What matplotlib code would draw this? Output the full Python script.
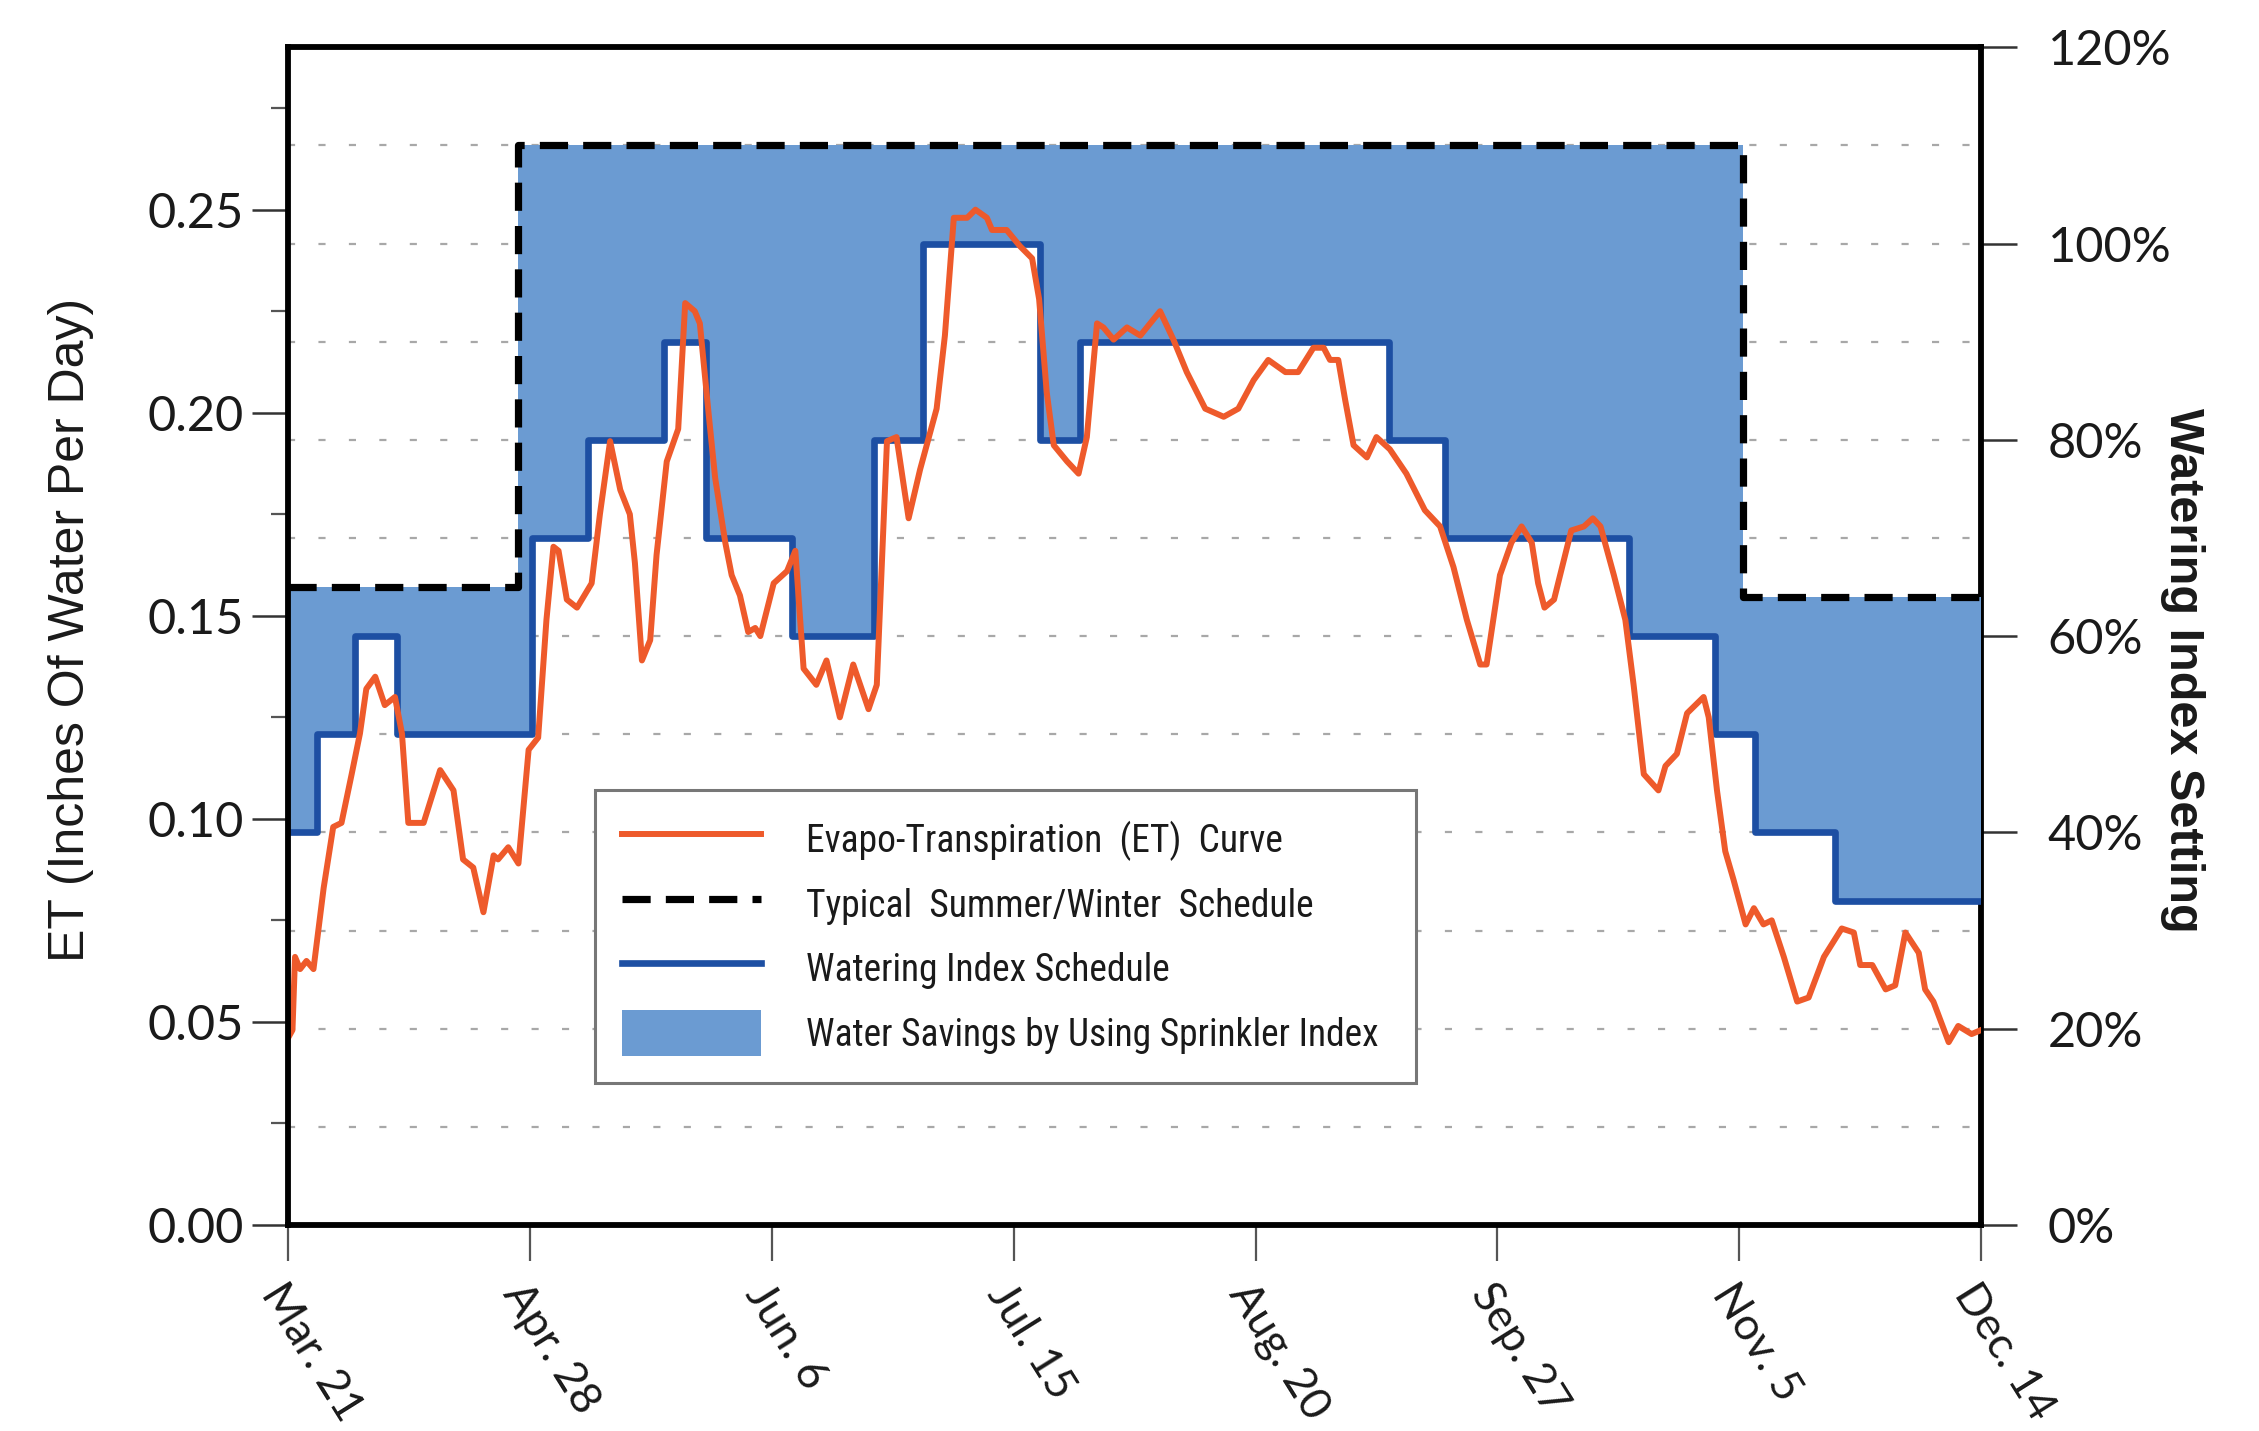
import numpy as np
import matplotlib
matplotlib.use("Agg")
import matplotlib.pyplot as plt
from matplotlib.lines import Line2D
from matplotlib.patches import Patch
from matplotlib.ticker import FixedLocator, FuncFormatter

# ---------------- data ----------------
tick_labels = ["Mar. 21", "Apr. 28", "Jun. 6", "Jul. 15", "Aug. 20", "Sep. 27", "Nov. 5", "Dec. 14"]
tick_days = [0, 38, 76, 114, 152, 190, 228, 266]

# Evapo-transpiration curve (inches of water per day), day index from Mar. 21
et_day = [0, 0.7, 1.1, 1.9, 2.9, 4.0, 5.6, 7.1, 8.4, 10.0, 11.3, 12.3, 13.7, 15.2, 16.8,
          17.9, 18.9, 21.3, 23.9, 26.0, 27.5, 29.1, 30.7, 32.3, 33.0, 34.6, 36.2, 37.8,
          39.3, 40.6, 41.7, 42.5, 43.8, 45.4, 47.7, 49.0, 50.6, 52.2, 53.7, 54.5, 55.6,
          56.9, 57.9, 59.5, 61.3, 62.4, 63.9, 64.7, 66.0, 67.1, 68.7, 69.7, 71.0, 72.3,
          73.4, 74.2, 76.3, 78.4, 79.7, 81.0, 83.0, 84.6, 86.7, 88.8, 91.2, 92.5, 94.1,
          95.6, 97.5, 99.3, 101.9, 103.2, 104.6, 106.7, 108.0, 109.8, 110.6, 112.9, 115.0,
          116.9, 118.0, 119.2, 120.3, 122.4, 124.2, 125.5, 127.1, 128.1, 129.7, 131.8,
          133.9, 137.0, 139.1, 141.2, 144.1, 147.0, 149.3, 151.7, 154.0, 156.7, 158.7,
          161.1, 162.7, 163.7, 165.0, 166.1, 167.4, 169.5, 171.0, 173.1, 175.7, 178.6,
          181.0, 183.1, 185.2, 187.3, 188.3, 190.4, 192.2, 193.8, 195.4, 196.4, 197.4,
          198.9, 201.6, 203.6, 205.0, 206.2, 208.3, 210.1, 211.4, 213.0, 215.3, 216.4,
          218.2, 219.8, 222.4, 223.2, 224.5, 225.8, 227.1, 229.0, 230.3, 231.8, 233.1,
          235.0, 237.1, 238.9, 241.3, 244.1, 246.0, 247.0, 248.9, 251.0, 252.5, 254.1,
          256.2, 257.2, 258.5, 260.9, 262.4, 264.5, 266.0]
et_value = [0.046, 0.048, 0.066, 0.063, 0.065, 0.063, 0.083, 0.098, 0.099, 0.111, 0.121,
            0.132, 0.135, 0.128, 0.130, 0.121, 0.099, 0.099, 0.112, 0.107, 0.090, 0.088,
            0.077, 0.091, 0.090, 0.093, 0.089, 0.117, 0.120, 0.149, 0.167, 0.166, 0.154,
            0.152, 0.158, 0.175, 0.193, 0.181, 0.175, 0.163, 0.139, 0.144, 0.165, 0.188,
            0.196, 0.227, 0.225, 0.222, 0.201, 0.184, 0.168, 0.160, 0.155, 0.146, 0.147,
            0.145, 0.158, 0.161, 0.166, 0.137, 0.133, 0.139, 0.125, 0.138, 0.127, 0.133,
            0.193, 0.194, 0.174, 0.186, 0.201, 0.219, 0.248, 0.248, 0.250, 0.248, 0.245,
            0.245, 0.241, 0.238, 0.228, 0.205, 0.192, 0.188, 0.185, 0.194, 0.222, 0.221,
            0.218, 0.221, 0.219, 0.225, 0.218, 0.210, 0.201, 0.199, 0.201, 0.208, 0.213,
            0.210, 0.210, 0.216, 0.216, 0.213, 0.213, 0.203, 0.192, 0.189, 0.194, 0.191,
            0.185, 0.176, 0.172, 0.162, 0.149, 0.138, 0.138, 0.160, 0.168, 0.172, 0.168,
            0.158, 0.152, 0.154, 0.171, 0.172, 0.174, 0.172, 0.160, 0.149, 0.133, 0.111,
            0.107, 0.113, 0.116, 0.126, 0.130, 0.125, 0.107, 0.092, 0.085, 0.074, 0.078,
            0.074, 0.075, 0.066, 0.055, 0.056, 0.066, 0.073, 0.072, 0.064, 0.064, 0.058,
            0.059, 0.072, 0.067, 0.058, 0.055, 0.045, 0.049, 0.047, 0.048]

# Watering index schedule (% setting), step changes
index_day = [0, 4.5, 10.5, 17.1, 38.3, 47.2, 59.0, 65.6, 79.1, 92.0, 99.8, 118.1, 124.4,
             172.9, 181.8, 210.6, 224.2, 230.5, 243.0, 266.0]
index_pct = [40, 50, 60, 50, 70, 80, 90, 70, 60, 80, 100, 80, 90, 80, 70, 60, 50, 40, 33, 33]

# Typical summer / winter schedule (% setting)
typical_day = [0, 36.2, 228.6, 266.0]
typical_pct = [65, 110, 64, 64]

legend_labels = ["Evapo-Transpiration  (ET)  Curve",
                 "Typical  Summer/Winter  Schedule",
                 "Watering Index Schedule",
                 "Water Savings by Using Sprinkler Index"]

# axis scales: 0.29 in/day  <->  120 %
ET_TOP = 0.29
PCT_TOP = 120.0

def pct_to_et(p):
    return np.asarray(p, dtype=float) * ET_TOP / PCT_TOP

def et_to_pct(e):
    return np.asarray(e, dtype=float) * PCT_TOP / ET_TOP

# ---------------- style ----------------
plt.rcParams["font.family"] = ["Lato", "DejaVu Sans"]
COND = ["Roboto Condensed", "Noto Sans Condensed", "DejaVu Sans Condensed",
        "Liberation Sans Narrow", "Noto Sans", "Liberation Sans"]
PLAIN = ["Liberation Sans", "DejaVu Sans"]

c_fill = "#6b9bd2"
c_blue = "#1d4fa3"
c_orange = "#ee5a2b"
c_text = "#1a1a1a"

LW_ET = 4.3
LW_IDX = 4.8
LW_TYP = 5.2
DASH = (0, (3.9, 2.1))

fig = plt.figure(figsize=(22.59, 14.31), dpi=100)
ax = fig.add_axes([0.1275, 0.144, 0.7495, 0.823])
ax.set_xlim(0, 266)
ax.set_ylim(0, ET_TOP)

# dotted grid every 10 % of the watering index scale
for p in range(10, 120, 10):
    ax.axhline(float(pct_to_et(p)), color="#a8a8a8", lw=1.6,
               ls=(0, (3.2, 10.5)), zorder=1)

# fill between schedules
x_all = np.union1d(index_day, typical_day)
def step_at(days, vals, x):
    idx = np.searchsorted(days, x, side="right") - 1
    idx = np.clip(idx, 0, len(vals) - 1)
    return np.asarray(vals, dtype=float)[idx]

lower = pct_to_et(step_at(index_day, index_pct, x_all))
upper = pct_to_et(step_at(typical_day, typical_pct, x_all))
ax.fill_between(x_all, lower, upper, step="post", color=c_fill, lw=0, zorder=2)

ax.step(index_day, pct_to_et(index_pct), where="post", color=c_blue, lw=LW_IDX, zorder=3)
ax.step(typical_day, pct_to_et(typical_pct), where="post", color="black", lw=LW_TYP,
        ls=DASH, zorder=4)
ax.plot(et_day, et_value, color=c_orange, lw=LW_ET, zorder=5)

# spines
for s in ["left", "bottom", "top"]:
    ax.spines[s].set_linewidth(4.2)
    ax.spines[s].set_color("black")
    ax.spines[s].set_zorder(6)
ax.spines["right"].set_visible(False)

# left axis ticks
ax.yaxis.set_major_locator(FixedLocator([0, 0.05, 0.10, 0.15, 0.20, 0.25]))
ax.yaxis.set_minor_locator(FixedLocator([0.025, 0.075, 0.125, 0.175, 0.225, 0.275]))
ax.yaxis.set_major_formatter(FuncFormatter(lambda v, pos: f"{v:.2f}"))
ax.tick_params(axis="y", which="major", length=26, width=1.8, pad=6,
               labelsize=35, colors="#333333", labelcolor=c_text)
ax.tick_params(axis="y", which="minor", length=12, width=1.6, colors="#555555")

# bottom ticks
ax.set_xticks(tick_days)
ax.set_xticklabels(tick_labels, rotation=-58, ha="left", va="top",
                   rotation_mode="anchor")
ax.tick_params(axis="x", which="major", length=26, width=1.6, pad=11,
               labelsize=32, colors="#555555", labelcolor=c_text)

ax.set_ylabel("ET (Inches Of Water Per Day)", family=PLAIN, fontsize=36,
              color=c_text, va="center")
ax.yaxis.set_label_coords(-0.128, 0.505)

# right axis (watering index setting)
ax2 = ax.secondary_yaxis("right", functions=(et_to_pct, pct_to_et))
ax2.set_yticks([0, 20, 40, 60, 80, 100, 120])
ax2.yaxis.set_major_formatter(FuncFormatter(lambda v, pos: f"{v:.0f}%"))
ax2.tick_params(axis="y", length=26, width=1.8, pad=22, labelsize=35,
                colors="#333333", labelcolor=c_text)
ax2.spines["right"].set_linewidth(4.2)
ax2.spines["right"].set_color("black")
ax2.set_ylabel("Watering Index Setting", family=PLAIN, fontsize=35,
               fontweight="bold", rotation=-90, va="center", ha="center", color=c_text)
ax2.yaxis.set_label_coords(1.119, 0.471, transform=ax.transAxes)

# legend
handles = [Line2D([], [], color=c_orange, lw=LW_ET),
           Line2D([], [], color="black", lw=LW_TYP, ls=DASH),
           Line2D([], [], color=c_blue, lw=LW_IDX),
           Patch(facecolor=c_fill, edgecolor="none")]
leg = ax.legend(handles, legend_labels, loc="lower left",
                bbox_to_anchor=(0.1813, 0.1205, 0.485, 0.2495), mode="expand",
                frameon=True, fancybox=False, shadow=False, framealpha=1,
                prop={"family": COND, "size": 27, "stretch": "condensed"},
                handlelength=3.7, handleheight=1.5, handletextpad=1.2,
                labelspacing=0.5, borderpad=0.72, borderaxespad=0)
leg.get_frame().set_edgecolor("#777777")
leg.get_frame().set_linewidth(2.2)
leg.set_zorder(7)
for t in leg.get_texts():
    t.set_color(c_text)

fig.savefig("out.png", dpi=100)
